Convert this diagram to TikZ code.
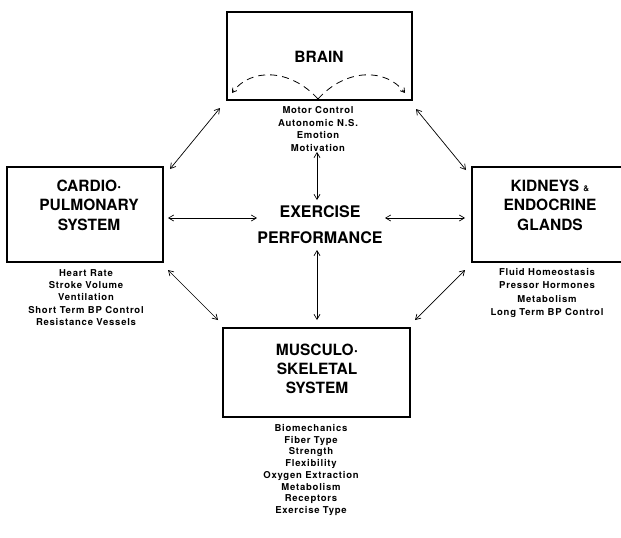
\documentclass[tikz,border=0pt]{standalone}
\usepackage{fontspec}
\setmainfont{TeX Gyre Heros}
\newfontfamily\smallfont[LetterSpace=8]{TeX Gyre Heros}
\usetikzlibrary{arrows.meta}
\begin{document}
\begin{tikzpicture}[x=1pt,y=-1pt,
  box/.style={draw,line width=1.3pt,inner sep=0pt},
  big/.style={font=\bfseries\fontsize{15.5}{19.5}\selectfont,align=center,inner sep=0pt},
  small/.style={font=\smallfont\bfseries\fontsize{9.5}{12.5}\selectfont,align=center,inner sep=0pt},
  tip/.style={Straight Barb[length=5pt,width=6pt]},
  link/.style={line width=0.7pt,{Straight Barb[length=5pt,width=6pt]}-{Straight Barb[length=5pt,width=6pt]}},
  loop/.style={line width=0.8pt,dash pattern=on 7pt off 5pt,-{Straight Barb[length=4pt,width=5pt]}}]
\useasboundingbox (0,0) rectangle (621,538);

% boxes
\node[box,minimum width=185pt,minimum height=88pt] (brainbox) at (319.5,56) {};
\node[box,minimum width=156pt,minimum height=95pt] (cardiobox) at (85,214.5) {};
\node[box,minimum width=187pt,minimum height=89pt] (muscbox) at (316.5,372.5) {};
\draw[line width=1.3pt] (621,167) -| (472,262) -- (621,262);

% titles
\node[big] (brain) at (319,57) {BRAIN};
\node[big] (cardio) at (89,205) {CARDIO·\\PULMONARY\\SYSTEM};
\node[big] (kidneys) at (550,205) {KIDNEYS {\fontsize{8}{8}\selectfont\&}\\ENDOCRINE\\GLANDS};
\node[big,font=\bfseries\fontsize{15.5}{19}\selectfont] (musc) at (317,369) {MUSCULO·\\SKELETAL\\SYSTEM};
\node[big,font=\bfseries\fontsize{16}{26}\selectfont] (ex) at (320,225) {EXERCISE\\PERFORMANCE};

% lists
\node[small,font=\smallfont\bfseries\fontsize{9.5}{12.7}\selectfont] (brainlist) at (318,129) {Motor Control\\Autonomic N.S.\\Emotion\\Motivation};
\node[small,font=\smallfont\bfseries\fontsize{9.5}{12.2}\selectfont] (cardiolist) at (86,297.5) {Heart Rate\\Stroke Volume\\Ventilation\\Short Term BP Control\\Resistance Vessels};
\node[small,font=\smallfont\bfseries\fontsize{9.5}{13.3}\selectfont] (kidneylist) at (547,293) {Fluid Homeostasis\\Pressor Hormones\\Metabolism\\Long Term BP Control};
\node[small,font=\smallfont\bfseries\fontsize{9.5}{11.7}\selectfont] (musclist) at (311,470) {Biomechanics\\Fiber Type\\Strength\\Flexibility\\Oxygen Extraction\\Metabolism\\Receptors\\Exercise Type};

% arrow end points
\coordinate (bA) at (317,152); \coordinate (bB) at (317,200);
\coordinate (mA) at (317,250); \coordinate (mB) at (317,320);
\coordinate (cA) at (168,218); \coordinate (cB) at (257,218);
\coordinate (kA) at (385,218); \coordinate (kB) at (465,218);
\coordinate (cmA) at (168,270); \coordinate (cmB) at (218,320);
\coordinate (kmA) at (465,270); \coordinate (kmB) at (415,320);
\coordinate (bcA) at (220,108); \coordinate (bcB) at (170,169);
\coordinate (bkA) at (416,109); \coordinate (bkB) at (466,170);

\draw[link] (bA) -- (bB);
\draw[link] (mA) -- (mB);
\draw[link] (cA) -- (cB);
\draw[link] (kA) -- (kB);
\draw[link] (cmA) -- (cmB);
\draw[link] (kmA) -- (kmB);
\draw[link] (bcA) -- (bcB);
\draw[link] (bkA) -- (bkB);

% dashed loops inside brain box
\coordinate (loopmid) at (318,99);
\coordinate (loopL) at (232,93);
\coordinate (loopR) at (405,93);
\draw[loop] (loopmid) .. controls (290,68) and (250,68) .. (loopL);
\draw[loop] (loopmid) .. controls (346,68) and (386,68) .. (loopR);
\end{tikzpicture}
\end{document}
